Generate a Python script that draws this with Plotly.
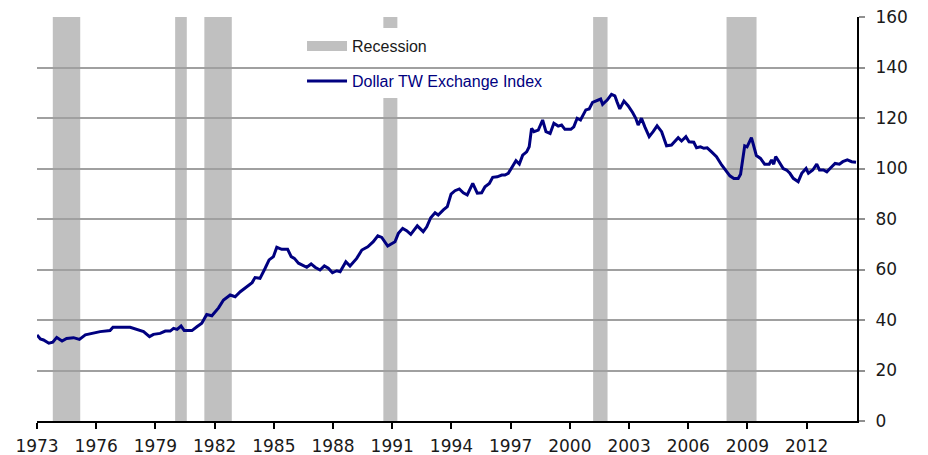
import plotly.graph_objects as go

# ---- data ----
years = [
    1973.00, 1973.17, 1973.33, 1973.60, 1973.80, 1974.00, 1974.27, 1974.50, 1974.85, 1975.15,
    1975.45, 1975.70, 1975.95, 1976.20, 1976.70, 1976.85, 1977.72, 1978.06, 1978.40, 1978.70,
    1978.90, 1979.24, 1979.50, 1979.75, 1979.92, 1980.10, 1980.30, 1980.46, 1980.85, 1981.10,
    1981.35, 1981.60, 1981.86, 1982.20, 1982.45, 1982.79, 1983.04, 1983.30, 1983.63, 1983.90,
    1984.05, 1984.30, 1984.56, 1984.76, 1984.98, 1985.15, 1985.40, 1985.70, 1985.88, 1986.04,
    1986.25, 1986.50, 1986.67, 1986.89, 1987.09, 1987.34, 1987.56, 1987.76, 1987.97, 1988.19,
    1988.36, 1988.65, 1988.86, 1989.20, 1989.46, 1989.76, 1990.04, 1990.27, 1990.47, 1990.77,
    1990.95, 1991.14, 1991.31, 1991.53, 1991.73, 1991.94, 1992.27, 1992.57, 1992.75, 1992.95,
    1993.17, 1993.33, 1993.59, 1993.79, 1993.98, 1994.18, 1994.40, 1994.60, 1994.80, 1995.08,
    1995.31, 1995.53, 1995.70, 1995.92, 1996.09, 1996.32, 1996.55, 1996.71, 1996.88, 1997.10,
    1997.27, 1997.44, 1997.61, 1997.81, 1997.94, 1998.06, 1998.18, 1998.40, 1998.62, 1998.79,
    1999.00, 1999.19, 1999.41, 1999.58, 1999.75, 2000.05, 2000.20, 2000.37, 2000.54, 2000.81,
    2000.98, 2001.15, 2001.35, 2001.56, 2001.66, 2001.89, 2002.11, 2002.28, 2002.40, 2002.53,
    2002.74, 2002.95, 2003.18, 2003.34, 2003.46, 2003.63, 2003.80, 2004.02, 2004.22, 2004.42,
    2004.65, 2004.90, 2005.15, 2005.32, 2005.49, 2005.66, 2005.88, 2006.04, 2006.28, 2006.42,
    2006.62, 2006.79, 2006.96, 2007.18, 2007.43, 2007.69, 2007.90, 2008.11, 2008.31, 2008.53,
    2008.65, 2008.78, 2008.86, 2008.98, 2009.08, 2009.20, 2009.28, 2009.45, 2009.66, 2009.87,
    2010.10, 2010.22, 2010.33, 2010.43, 2010.60, 2010.81, 2010.98, 2011.15, 2011.32, 2011.57,
    2011.75, 2011.97, 2012.09, 2012.31, 2012.51, 2012.65, 2012.85, 2013.02, 2013.22, 2013.44,
    2013.66, 2013.83, 2014.06, 2014.28, 2014.50,
]
dollar_index = [
    34.1, 32.5, 32.1, 30.8, 31.2, 33.1, 31.7, 32.7, 33.0, 32.3,
    34.1, 34.5, 35.1, 35.4, 35.8, 37.1, 37.1, 36.3, 35.4, 33.4,
    34.3, 34.7, 35.6, 35.6, 36.7, 36.3, 37.6, 35.8, 35.8, 37.3,
    38.7, 42.2, 41.7, 44.8, 47.9, 49.9, 49.2, 51.2, 53.2, 54.8,
    56.8, 56.5, 60.5, 63.8, 65.1, 68.8, 68.0, 68.0, 65.1, 64.4,
    62.5, 61.4, 60.9, 62.2, 60.9, 59.8, 61.4, 60.5, 58.7, 59.5,
    59.1, 63.1, 61.4, 64.4, 67.7, 69.0, 71.0, 73.3, 72.7, 69.3,
    70.0, 71.0, 74.3, 76.3, 75.4, 73.9, 77.3, 75.0, 76.9, 80.5,
    82.5, 81.6, 83.6, 84.9, 89.9, 91.2, 91.9, 90.4, 89.5, 94.1,
    90.2, 90.4, 92.8, 94.1, 96.5, 96.7, 97.4, 97.4, 98.1, 101.0,
    103.1, 101.8, 105.3, 106.6, 108.6, 115.9, 114.6, 115.2, 119.2, 114.6,
    113.9, 117.9, 116.8, 117.2, 115.5, 115.5, 116.5, 119.9, 119.2, 123.2,
    123.6, 126.2, 126.8, 127.5, 125.4, 127.1, 129.4, 128.8, 126.2, 123.6,
    126.7, 124.9, 122.2, 119.9, 117.2, 119.9, 116.5, 112.6, 114.6, 116.9,
    114.6, 109.0, 109.3, 110.6, 112.2, 110.9, 112.6, 110.6, 110.4, 108.2,
    108.6, 108.0, 108.2, 106.6, 104.7, 101.4, 99.2, 97.1, 96.0, 96.0,
    97.7, 104.0, 109.0, 108.6, 110.0, 112.2, 110.0, 105.1, 104.0, 101.7,
    101.7, 103.4, 101.7, 104.7, 102.7, 100.0, 99.4, 98.1, 96.1, 94.8,
    98.1, 100.0, 98.1, 99.4, 101.7, 99.4, 99.4, 98.7, 100.3, 102.0,
    101.7, 102.7, 103.4, 102.7, 102.5,
]
recession_start = [1973.80, 1980.00, 1981.48, 1990.55, 2001.18, 2007.94]
recession_end = [1975.19, 1980.59, 1982.87, 1991.26, 2001.91, 2009.46]
x_tick_years = list(range(1973, 2013, 3))
series_name = "Dollar TW Exchange Index"
recession_name = "Recession"

NAVY = "#000080"
GRAY_BAND = "#c0c0c0"

fig = go.Figure()

# legend-only entry for recession bands
fig.add_trace(go.Scatter(
    x=[None], y=[None], mode="lines", name=recession_name,
    line=dict(color=GRAY_BAND, width=11), legend="legend", hoverinfo="skip",
))
fig.add_trace(go.Scatter(
    x=years, y=dollar_index, mode="lines", name=series_name,
    line=dict(color=NAVY, width=3), legend="legend2",
))

shapes = []
for s, e in zip(recession_start, recession_end):
    shapes.append(dict(type="rect", xref="x", yref="paper", x0=s, x1=e, y0=0, y1=1,
                       fillcolor=GRAY_BAND, line=dict(width=0), layer="between"))
# white legend box
shapes.append(dict(type="rect", xref="paper", yref="paper",
                   x0=0.3146, x1=0.6354, y0=0.7995, y1=0.9728,
                   fillcolor="white", line=dict(width=0), layer="between"))

fig.update_layout(
    width=928, height=455, autosize=False,
    margin=dict(l=37, r=71, t=17, b=34),
    paper_bgcolor="white", plot_bgcolor="white",
    shapes=shapes,
    showlegend=True,
    legend=dict(x=0.3232, y=0.928, xanchor="left", yanchor="middle",
                bgcolor="rgba(0,0,0,0)", itemwidth=40,
                font=dict(family="Liberation Sans, Arial, sans-serif", size=16, color="#1a1a1a")),
    legend2=dict(x=0.3232, y=0.8416, xanchor="left", yanchor="middle",
                 bgcolor="rgba(0,0,0,0)", itemwidth=40,
                 font=dict(family="Liberation Sans, Arial, sans-serif", size=16, color=NAVY)),
    xaxis=dict(
        range=[1973, 2014.55], tickmode="array", tickvals=x_tick_years,
        ticktext=[str(v) for v in x_tick_years],
        showgrid=False, zeroline=False, automargin=False,
        showline=True, linecolor="black", linewidth=2,
        ticks="outside", ticklen=6, tickwidth=1.5, tickcolor="black",
        ticklabelstandoff=3,
        tickfont=dict(family="DejaVu Sans, Verdana, sans-serif", size=17, color="#1a1a1a"),
    ),
    yaxis=dict(
        range=[0, 160], dtick=20, side="right",
        showgrid=True, gridcolor="#a0a0a0", gridwidth=1.5, zeroline=False, automargin=False,
        showline=True, linecolor="black", linewidth=2,
        ticks="outside", ticklen=6, tickwidth=1.5, tickcolor="#909090",
        ticklabelstandoff=7,
        tickfont=dict(family="DejaVu Sans, Verdana, sans-serif", size=17, color="#1a1a1a"),
    ),
)

fig.write_html(
    "out.html",
    config={"displayModeBar": False},
    post_script="document.body.style.margin='0px';document.body.style.overflow='hidden';",
)
